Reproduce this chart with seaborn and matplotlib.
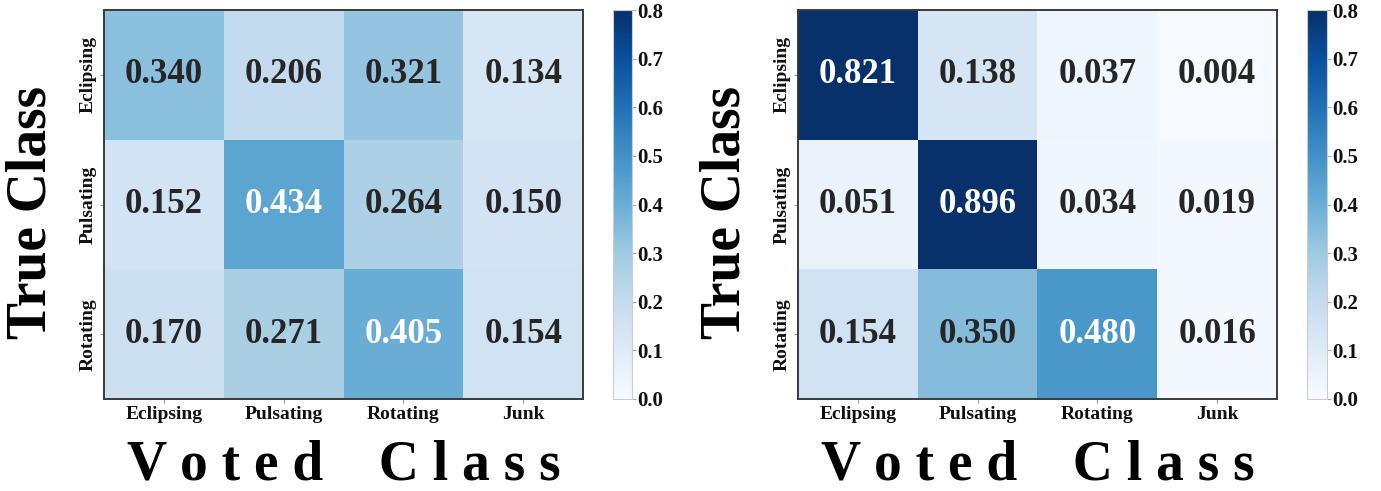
import matplotlib
matplotlib.use("Agg")
import matplotlib.pyplot as plt
import seaborn as sns
import numpy as np

sns.set_theme(style="white")
plt.rcParams['font.family'] = ['Liberation Serif', 'DejaVu Serif']
plt.rcParams['font.weight'] = 'bold'

voted_classes = ["Eclipsing", "Pulsating", "Rotating", "Junk"]
true_classes = ["Eclipsing", "Pulsating", "Rotating"]

left_eclipsing = [0.340, 0.206, 0.321, 0.134]
left_pulsating = [0.152, 0.434, 0.264, 0.150]
left_rotating = [0.170, 0.271, 0.405, 0.154]

right_eclipsing = [0.821, 0.138, 0.037, 0.004]
right_pulsating = [0.051, 0.896, 0.034, 0.019]
right_rotating = [0.154, 0.350, 0.480, 0.016]

cbar_ticks = [0.0, 0.1, 0.2, 0.3, 0.4, 0.5, 0.6, 0.7, 0.8]

W, H = 1381, 491
fig = plt.figure(figsize=(W / 100, H / 100), dpi=100)


def px_axes(x0, x1, y0, y1):
    return fig.add_axes([x0 / W, 1 - y1 / H, (x1 - x0) / W, (y1 - y0) / H])


panels = [
    (np.array([left_eclipsing, left_pulsating, left_rotating]), (104, 583), (613, 632)),
    (np.array([right_eclipsing, right_pulsating, right_rotating]), (798, 1277), (1307, 1327)),
]

for data, (ax0, ax1), (c0, c1) in panels:
    ax = px_axes(ax0, ax1, 10, 399)
    cax = px_axes(c0, c1, 10, 399)
    sns.heatmap(data, ax=ax, cbar_ax=cax, cmap="Blues", vmin=0, vmax=0.8,
                annot=True, fmt=".3f",
                annot_kws={"size": 25, "weight": "bold"},
                xticklabels=voted_classes, yticklabels=true_classes)
    for sp in ax.spines.values():
        sp.set_visible(True)
        sp.set_color("#3a3a3a")
        sp.set_linewidth(1.4)
    ax.tick_params(axis="both", which="both", length=3, width=0.8, color="#999999",
                   bottom=True, left=True, pad=2)
    ax.set_xticklabels(voted_classes, fontsize=14, fontweight="bold", rotation=0, color="#111111")
    ax.set_yticklabels(true_classes, fontsize=14, fontweight="bold", rotation=90,
                       va="center", color="#111111")
    ax.set_xlabel("V o t e d    C l a s s", fontsize=40, fontweight="bold", color="black")
    ax.xaxis.set_label_coords(0.5, -0.105)
    ax.xaxis.label.set_va("top")
    ax.set_ylabel("True Class", fontsize=40, fontweight="bold", color="black")
    ax.yaxis.set_label_coords(-0.097, 0.48)
    cax.set_yticks(cbar_ticks)
    cax.set_yticklabels([f"{t:.1f}" for t in cbar_ticks], fontsize=15, fontweight="bold",
                        color="#111111")
    cax.tick_params(axis="y", length=3, width=0.8, color="#aaaaaa", pad=1, right=True)
    cbar = ax.collections[0].colorbar
    cbar.outline.set_visible(True)
    cbar.outline.set_edgecolor("#cccccc")
    cbar.outline.set_linewidth(0.8)

fig.savefig("out.png", dpi=100)
